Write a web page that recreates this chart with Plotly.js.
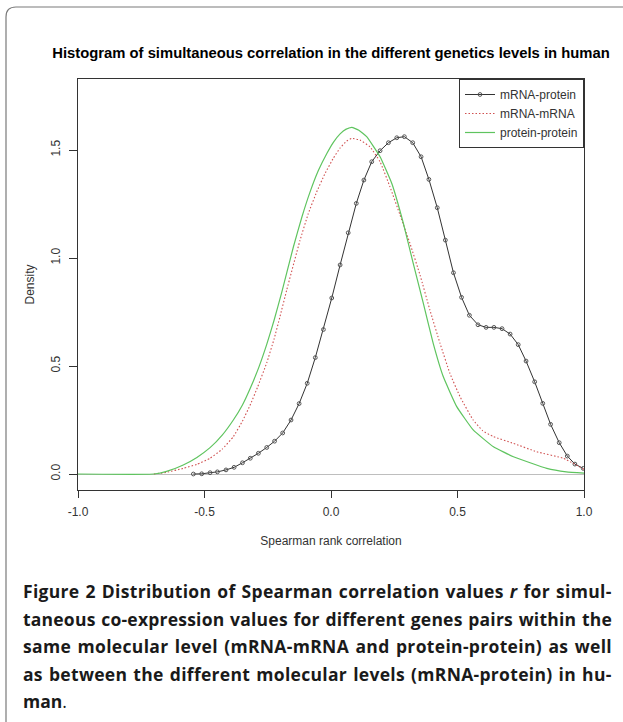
<!DOCTYPE html>
<html>
<head>
<meta charset="utf-8">
<script src="https://cdn.plot.ly/plotly-3.0.1.min.js"></script>
<style>html,body{margin:0;padding:0;background:#fff;}#chart{width:623px;height:722px;}</style>
</head>
<body>
<div id="chart"></div>
<script>
// ---- data ----
var mpX = [-0.544,-0.511,-0.478,-0.449,-0.415,-0.383,-0.350,-0.319,-0.287,-0.254,-0.223,-0.191,-0.158,-0.126,-0.094,-0.062,-0.030,0.003,0.036,0.068,0.100,0.130,0.161,0.194,0.227,0.260,0.290,0.323,0.356,0.387,0.420,0.452,0.484,0.516,0.547,0.581,0.613,0.644,0.676,0.708,0.740,0.771,0.805,0.837,0.868,0.902,0.934,0.964,0.997];
var mpY = [0.000,0.001,0.006,0.010,0.019,0.031,0.052,0.073,0.096,0.123,0.152,0.190,0.250,0.326,0.420,0.539,0.669,0.815,0.968,1.117,1.253,1.361,1.446,1.497,1.534,1.557,1.562,1.534,1.469,1.364,1.233,1.083,0.932,0.818,0.735,0.691,0.679,0.679,0.673,0.648,0.599,0.523,0.427,0.327,0.230,0.145,0.083,0.046,0.026];

var mmX = [-0.700,-0.650,-0.584,-0.530,-0.478,-0.430,-0.386,-0.350,-0.320,-0.290,-0.254,-0.225,-0.202,-0.175,-0.123,-0.090,-0.057,-0.025,0.009,0.035,0.062,0.082,0.115,0.154,0.194,0.233,0.273,0.312,0.352,0.391,0.431,0.470,0.510,0.562,0.600,0.642,0.721,0.813,0.918,1.000];
var mmY = [0.000,0.008,0.026,0.045,0.073,0.115,0.173,0.245,0.318,0.403,0.515,0.625,0.727,0.852,1.080,1.205,1.305,1.388,1.462,1.508,1.542,1.554,1.546,1.515,1.446,1.330,1.199,1.068,0.921,0.759,0.605,0.466,0.358,0.250,0.200,0.173,0.142,0.103,0.073,0.022];

var ppX = [-1.000,-0.700,-0.650,-0.584,-0.530,-0.478,-0.430,-0.386,-0.350,-0.320,-0.285,-0.254,-0.225,-0.195,-0.149,-0.115,-0.083,-0.050,-0.017,0.010,0.036,0.060,0.082,0.110,0.141,0.194,0.240,0.286,0.325,0.365,0.404,0.444,0.497,0.562,0.642,0.721,0.853,0.930,1.000];
var ppY = [0.000,0.000,0.012,0.042,0.077,0.122,0.180,0.250,0.320,0.395,0.495,0.600,0.712,0.840,1.050,1.190,1.305,1.405,1.483,1.537,1.575,1.597,1.605,1.592,1.562,1.469,1.346,1.161,0.975,0.790,0.605,0.450,0.312,0.204,0.126,0.080,0.026,0.010,0.004];

var seriesNames = ["mRNA-protein","mRNA-mRNA","protein-protein"];
var xTickVals = [-1.0,-0.5,0.0,0.5,1.0];
var xTickText = ["-1.0","-0.5","0.0","0.5","1.0"];
var yTickVals = [0.0,0.5,1.0,1.5];
var yTickText = ["0.0","0.5","1.0","1.5"];

var captionLines = [
  "<b>Figure 2 Distribution of Spearman correlation values <i>r</i> for simul-</b>",
  "<b>taneous co-expression values for different genes pairs within the</b>",
  "<b>same molecular level (mRNA-mRNA and protein-protein) as well</b>",
  "<b>as between the different molecular levels (mRNA-protein) in hu-</b>",
  "<b>man</b>."
];
var captionJustify = [true, true, true, true, false];

// ---- layout geometry ----
var W = 623, H = 722;
var L = 78, R = 584, T = 79, B = 490;
function pxX(px){ return (px - L) / (R - L); }
function pxY(py){ return (B - py) / (B - T); }

var rFont = "Liberation Sans, Arial, sans-serif";
var capFont = {family: "Open Sans, sans-serif", size: 17.5, color: "#1a1a1a"};
var capLeft = 21, capRight = 610;

var traces = [
  {x: mpX, y: mpY, name: seriesNames[0], type: "scatter", mode: "lines+markers",
   line: {color: "#333333", width: 1},
   marker: {symbol: "circle-open", size: 3.8, color: "#555555", line: {width: 1}}},
  {x: mmX, y: mmY, name: seriesNames[1], type: "scatter", mode: "lines",
   line: {color: "#d05050", width: 1.1, dash: "1.5px,2px", shape: "spline", smoothing: 0.35}},
  {x: ppX, y: ppY, name: seriesNames[2], type: "scatter", mode: "lines",
   line: {color: "#5fc45f", width: 1.2, shape: "spline", smoothing: 0.35}}
];

function captionAnnotations(spacings){
  return captionLines.map(function(t, i){
    var txt = t;
    var s = spacings && spacings[i];
    if (s) txt = '<span style="letter-spacing:' + s.ls.toFixed(3) + 'px;word-spacing:' + s.ws.toFixed(2) + 'px">' + t + '</span>';
    return {
      text: txt, xref: "paper", yref: "paper", x: pxX(capLeft), y: pxY(591 + i * 27.6),
      xanchor: "left", yanchor: "middle", showarrow: false, align: "left",
      font: capFont
    };
  });
}

var layout = {
  width: W, height: H,
  margin: {l: L, r: W - R, t: T, b: H - B, pad: 0},
  paper_bgcolor: "#ffffff", plot_bgcolor: "#ffffff",
  showlegend: true,
  title: {text: "<b>Histogram of simultaneous correlation in the different genetics levels in human</b>",
          xref: "container", yref: "container", x: 331 / W, y: 1 - 53 / H,
          xanchor: "center", yanchor: "middle",
          font: {family: rFont, size: 14.8, color: "#000000"}},
  xaxis: {range: [-1, 1], tickvals: xTickVals, ticktext: xTickText,
          showline: true, mirror: true, linecolor: "#333333", linewidth: 1,
          ticks: "outside", ticklen: 7, tickwidth: 1, tickcolor: "#333333",
          ticklabelstandoff: 4,
          showgrid: false, zeroline: false,
          tickfont: {family: rFont, size: 12, color: "#333333"},
          title: {text: "Spearman rank correlation", standoff: 18,
                  font: {family: rFont, size: 12, color: "#333333"}}},
  yaxis: {range: [-0.074, 1.829], tickvals: yTickVals, ticktext: yTickText,
          showline: true, mirror: true, linecolor: "#333333", linewidth: 1,
          ticks: "outside", ticklen: 8, tickwidth: 1, tickcolor: "#333333",
          tickangle: -90, ticklabelstandoff: 4,
          showgrid: false, zeroline: true, zerolinecolor: "#bebebe", zerolinewidth: 1,
          tickfont: {family: rFont, size: 12, color: "#333333"},
          title: {text: "Density", standoff: 12,
                  font: {family: rFont, size: 12, color: "#333333"}}},
  legend: {x: 1, y: 1, xanchor: "right", yanchor: "top",
           bgcolor: "#ffffff", bordercolor: "#333333", borderwidth: 1,
           font: {family: rFont, size: 12, color: "#333333"},
           tracegroupgap: 0, itemwidth: 30},
  shapes: [{
    type: "path", xref: "paper", yref: "paper", layer: "below",
    path: "M " + pxX(6) + "," + pxY(730) + " L " + pxX(6) + "," + pxY(17) +
          " Q " + pxX(6) + "," + pxY(7) + " " + pxX(16) + "," + pxY(7) +
          " L " + pxX(630) + "," + pxY(7),
    line: {color: "#7a7a7a", width: 1.2}
  }],
  annotations: captionAnnotations(null)
};

Plotly.newPlot("chart", traces, layout, {displayModeBar: false, staticPlot: true}).then(function(gd){
  // justify caption lines like the printed figure (mostly via letter spacing)
  var target = capRight - capLeft;
  var spacings = captionLines.map(function(t, i){
    if (!captionJustify[i]) return null;
    var el = gd.querySelector('.annotation[data-index="' + i + '"] text');
    if (!el) return null;
    var w = el.getBBox().width;
    var plain = t.replace(/<[^>]+>/g, "");
    var nSpaces = (plain.match(/ /g) || []).length;
    var nChars = plain.length;
    var extra = target - w;
    if (!nSpaces || extra <= 0) return null;
    var ls = 0.65 * extra / nChars;
    var ws = (extra - ls * nChars) / nSpaces;
    return {ls: ls, ws: ws};
  });
  return Plotly.relayout(gd, {annotations: captionAnnotations(spacings)});
});
</script>
</body>
</html>
